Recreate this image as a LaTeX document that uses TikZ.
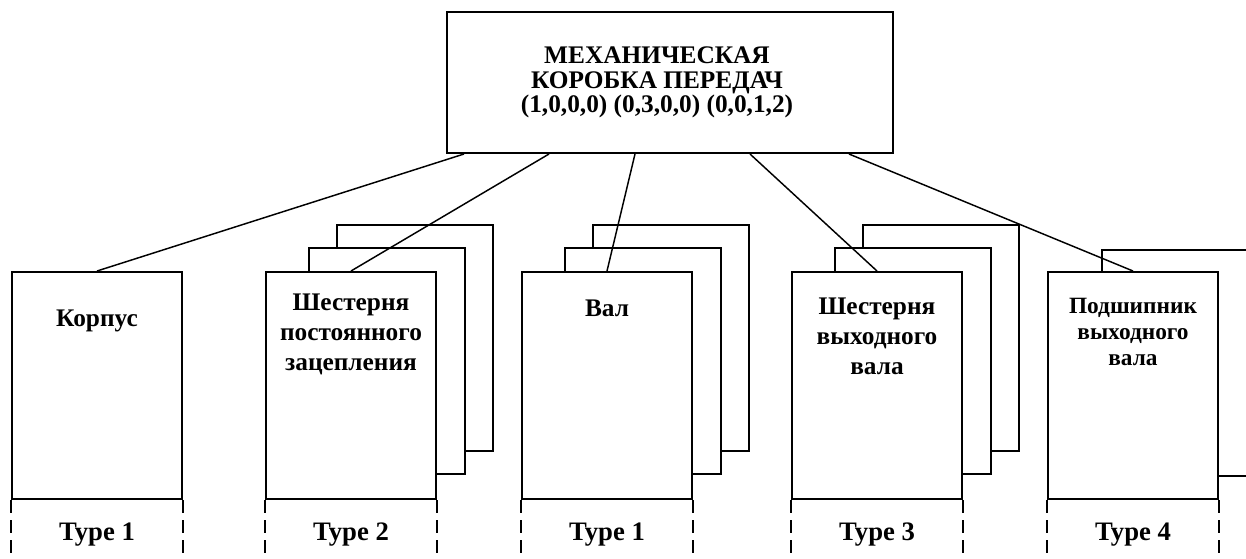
\documentclass[tikz,border=0pt]{standalone}
\usepackage{fontspec}
\setmainfont{Liberation Serif}
\usepackage{tikz}
\usetikzlibrary{positioning,backgrounds}
\tikzset{
  partbox/.style={
    rectangle,
    draw=black,
    fill=white,
    line width=1.5pt,
    minimum width=127.5pt,
    minimum height=170.25pt,
    inner sep=0pt
  },
  backbox/.style={partbox, minimum width=117pt, minimum height=169.5pt},
  rootbox/.style={partbox, minimum width=334.5pt, minimum height=105.75pt},
  roottitle/.style={align=center, inner sep=0pt, font=\bfseries\fontsize{19}{18.5}\selectfont},
  parttitle/.style={align=center, inner sep=0pt, font=\bfseries\fontsize{19}{22.5}\selectfont},
  smalltitle/.style={parttitle, font=\bfseries\fontsize{17.5}{19.5}\selectfont},
  typelabel/.style={inner sep=0pt, font=\bfseries\fontsize{20}{22}\selectfont},
  typeside/.style={line width=1.5pt, dash pattern=on 9.75pt off 5.25pt},
  link/.style={line width=1.1pt}
}

\begin{document}
\begin{tikzpicture}[x=0.75pt, y=-0.75pt]
\useasboundingbox (0,0) rectangle (1246,558);
\node[rootbox] (gearbox) at (670,82.5) {};
\node[roottitle] (gearboxtitle) at ([shift={(-13,0)}]gearbox.center) {МЕХАНИЧЕСКАЯ\\КОРОБКА ПЕРЕДАЧ\\(1,0,0,0) (0,3,0,0) (0,0,1,2)};
\node[partbox] (housing) at (97,385.5) {};
\node[partbox] (constgear) at (351,385.5) {};
\node[partbox] (shaft) at (607,385.5) {};
\node[partbox] (outgear) at (877,385.5) {};
\node[partbox] (bearing) at (1133,385.5) {};
% stacked copies behind the front boxes
\begin{scope}[on background layer]
\clip (0,0) rectangle (1246,558);
\foreach \part in {constgear,shaft,outgear} {
  \node[backbox, anchor=north east] (\part-b2) at ([shift={(57,-47)}]\part.north east) {};
  \node[backbox, anchor=north east] (\part-b1) at ([shift={(29,-24)}]\part.north east) {};
}
\node[backbox, anchor=north west, minimum width=120pt] (bearing-b1) at ([shift={(54,-22)}]bearing.north west) {};
\end{scope}
\node[parttitle] (housingtitle) at ([shift={(0,50)}]housing.north) {Корпус};
\node[parttitle] (constgeartitle) at ([shift={(0,63)}]constgear.north) {Шестерня\\постоянного\\зацепления};
\node[parttitle] (shafttitle) at ([shift={(0,37)}]shaft.north) {Вал};
\node[parttitle] (outgeartitle) at ([shift={(0,65)}]outgear.north) {Шестерня\\выходного\\вала};
\node[smalltitle] (bearingtitle) at ([shift={(0,61)}]bearing.north) {Подшипник\\выходного\\вала};
\node[typelabel] (housingtype) at ([shift={(0,35)}]housing.south) {Type 1};
\node[typelabel] (constgeartype) at ([shift={(0,35)}]constgear.south) {Type 2};
\node[typelabel] (shafttype) at ([shift={(0,35)}]shaft.south) {Type 1};
\node[typelabel] (outgeartype) at ([shift={(0,35)}]outgear.south) {Type 3};
\node[typelabel] (bearingtype) at ([shift={(0,35)}]bearing.south) {Type 4};
\foreach \part in {housing,constgear,shaft,outgear,bearing}
  \draw[typeside] (\part.south west) -- ++(0,62) (\part.south east) -- ++(0,62);
\draw[link] ([shift={(18,0)}]gearbox.south west) -- (housing.north);
\draw[link] ([shift={(103,0)}]gearbox.south west) -- (constgear.north);
\draw[link] ([shift={(189,0)}]gearbox.south west) -- (shaft.north);
\draw[link] ([shift={(304,0)}]gearbox.south west) -- (outgear.north);
\draw[link] ([shift={(403,0)}]gearbox.south west) -- (bearing.north);
\end{tikzpicture}
\end{document}
